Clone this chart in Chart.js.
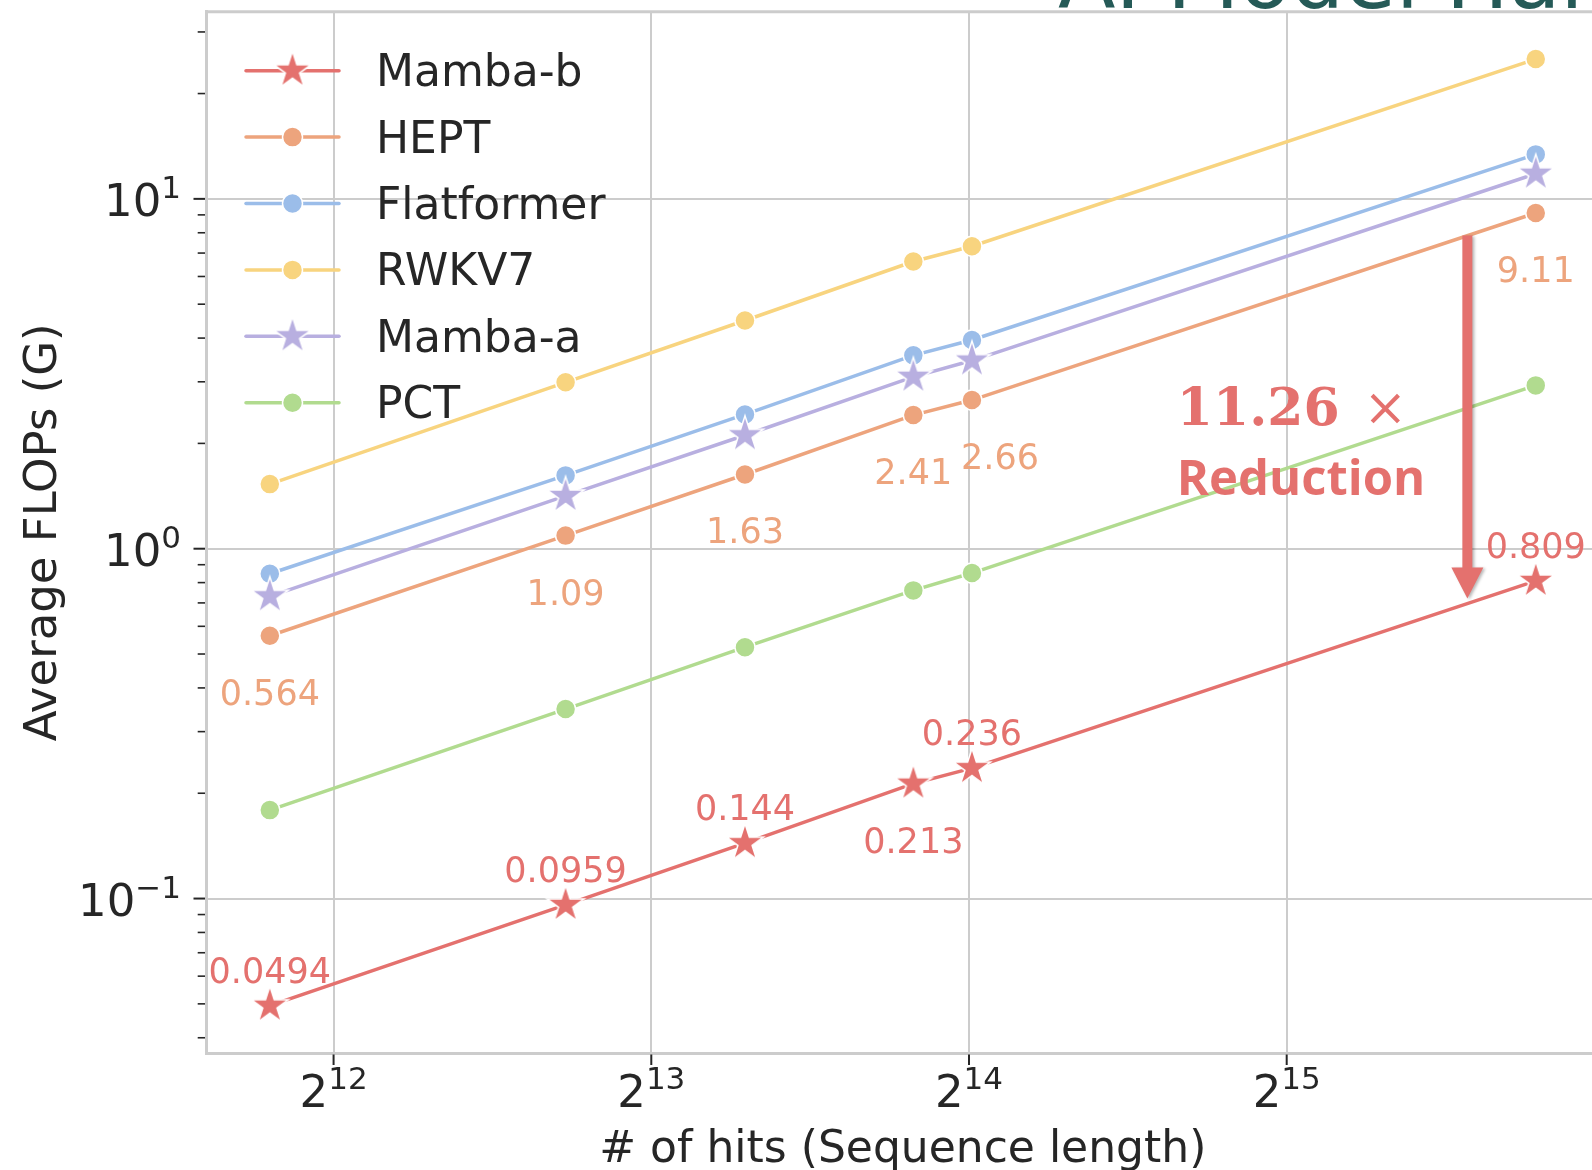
<!DOCTYPE html>
<html>
<head>
<meta charset="utf-8">
<title>Average FLOPs vs. sequence length</title>
<script src="https://cdn.jsdelivr.net/npm/chart.js@4.4.1/dist/chart.umd.min.js"></script>
<style>
  html, body { margin: 0; padding: 0; background: #ffffff; overflow: hidden; }
  #wrap { position: relative; width: 1700px; height: 1170px; }
</style>
</head>
<body>
<div id="wrap"><canvas id="chart"></canvas></div>
<script>
// ---- data ----
const HITS = [3564, 6795, 10050, 14510, 16490, 56420];          // # of hits per bucket
const MAMBA_B    = [0.0494, 0.0959, 0.144, 0.213, 0.236, 0.809];
const HEPT       = [0.564, 1.09, 1.63, 2.41, 2.66, 9.11];
const FLATFORMER = [0.848, 1.62, 2.42, 3.57, 3.95, 13.4];
const RWKV7      = [1.53, 2.99, 4.49, 6.62, 7.32, 25.1];
const MAMBA_A    = [0.731, 1.415, 2.11, 3.10, 3.45, 11.8];
const PCT        = [0.179, 0.348, 0.523, 0.760, 0.852, 2.93];
const SERIES_NAMES = ['Mamba-b', 'HEPT', 'Flatformer', 'RWKV7', 'Mamba-a', 'PCT'];

const X_TICK_EXPONENTS = [12, 13, 14, 15];        // 2^12 .. 2^15
const Y_TICK_EXPONENTS = [-1, 0, 1];              // 10^-1 .. 10^1
const REDUCTION_TEXT = '11.26';
const REDUCTION_WORD = 'Reduction';

// ---- styling ----
const COLORS = {
  'Mamba-b': '#e4716e',
  'HEPT': '#eda47d',
  'Flatformer': '#9bbde9',
  'RWKV7': '#f8d47f',
  'Mamba-a': '#b8afe0',
  'PCT': '#b1db8f'
};
const MARKERS = { 'Mamba-b': 'star', 'HEPT': 'circle', 'Flatformer': 'circle', 'RWKV7': 'circle', 'Mamba-a': 'star', 'PCT': 'circle' };
const FONT = '"DejaVu Sans", sans-serif';
const INK = '#262626';
const GRID = '#cccccc';
const DOT_R = 10;

// value-label placement for the two annotated series
const LABEL_LAYOUT = {
  'Mamba-b': { side: ['above', 'above', 'above', 'below', 'above', 'above'], dx: [0, 0, 0, 0, 0, 0] },
  'HEPT':    { side: ['below', 'below', 'below', 'below', 'below', 'below'], dx: [0, 0, 0, 0, 28, 0] }
};

// reduction arrow (data coordinates) and its caption
const ARROW = { x: 48600, from: 7.86, to: 0.72 };
const CAPTION = { x: 25950, y1: 2.25, y2: 1.42 };

const X_MIN = Math.pow(2, 11.6), X_MAX = Math.pow(2, 15.983);
const Y_MIN = Math.pow(10, -1.4415), Y_MAX = Math.pow(10, 1.535);

// filled five-point star marker with a thin white edge
function starImage(color, R) {
  const s = 2 * Math.ceil(R + 3);
  const c = document.createElement('canvas');
  c.width = s; c.height = s;
  const g = c.getContext('2d');
  const cx = s / 2, cy = s / 2, r = R * 0.381966;
  g.beginPath();
  for (let k = 0; k < 10; k++) {
    const rad = (k % 2) ? r : R;
    const a = -Math.PI / 2 + k * Math.PI / 5;
    const px = cx + rad * Math.cos(a), py = cy + rad * Math.sin(a);
    if (k) g.lineTo(px, py); else g.moveTo(px, py);
  }
  g.closePath();
  g.fillStyle = color;
  g.fill();
  g.lineWidth = 1.5;
  g.strokeStyle = '#ffffff';
  g.stroke();
  return c;
}

const STAR_R = 19.5;
const stars = {};
SERIES_NAMES.forEach(n => { if (MARKERS[n] === 'star') stars[n] = starImage(COLORS[n], STAR_R); });

const SERIES_VALUES = [MAMBA_B, HEPT, FLATFORMER, RWKV7, MAMBA_A, PCT];

const datasets = SERIES_NAMES.map((name, i) => ({
  label: name,
  data: HITS.map((x, j) => ({ x: x, y: SERIES_VALUES[i][j] })),
  borderColor: COLORS[name],
  backgroundColor: COLORS[name],
  borderWidth: 3.5,
  pointStyle: MARKERS[name] === 'star' ? stars[name] : 'circle',
  pointRadius: DOT_R,
  pointBorderColor: '#ffffff',
  pointBorderWidth: 1.5,
  pointBackgroundColor: COLORS[name],
  tension: 0,
  order: -i,
  clip: false
}));

// "10" + superscript style tick text
function mathLabel(ctx, base, sup, x, y, align) {
  ctx.font = '45px ' + FONT;
  const wb = ctx.measureText(base).width;
  ctx.font = '31px ' + FONT;
  const ws = ctx.measureText(sup).width;
  const x0 = align === 'right' ? x - wb - ws : x - (wb + ws) / 2;
  ctx.textAlign = 'left';
  ctx.textBaseline = 'alphabetic';
  ctx.fillStyle = INK;
  ctx.font = '45px ' + FONT;
  ctx.fillText(base, x0, y);
  ctx.font = '31px ' + FONT;
  ctx.fillText(sup, x0 + wb, y - 18.5);
}

const axesDecor = {
  id: 'axesDecor',
  afterDraw(chart) {
    const ctx = chart.ctx;
    const area = chart.chartArea;
    const xs = chart.scales.x, ys = chart.scales.y;
    ctx.save();

    // top spine
    ctx.strokeStyle = GRID;
    ctx.lineWidth = 3;
    ctx.beginPath();
    ctx.moveTo(area.left - 1.5, area.top);
    ctx.lineTo(area.right + 1.5, area.top);
    ctx.stroke();

    // tick marks
    ctx.strokeStyle = INK;
    X_TICK_EXPONENTS.forEach(e => {
      const px = xs.getPixelForValue(Math.pow(2, e));
      ctx.lineWidth = 2;
      ctx.beginPath();
      ctx.moveTo(px, area.bottom + 1.5);
      ctx.lineTo(px, area.bottom + 12);
      ctx.stroke();
    });
    for (let k = -2; k <= 1; k++) {
      for (let m = 1; m <= 9; m++) {
        const v = m * Math.pow(10, k);
        if (v < Y_MIN || v > Y_MAX) continue;
        const py = ys.getPixelForValue(v);
        const major = (m === 1);
        ctx.lineWidth = major ? 2 : 1.6;
        ctx.beginPath();
        ctx.moveTo(area.left - 1.5, py);
        ctx.lineTo(area.left - (major ? 13 : 8.8), py);
        ctx.stroke();
      }
    }

    // tick labels
    X_TICK_EXPONENTS.forEach(e => {
      const px = xs.getPixelForValue(Math.pow(2, e));
      mathLabel(ctx, '2', String(e), px, area.bottom + 54.3, 'center');
    });
    Y_TICK_EXPONENTS.forEach(e => {
      const py = ys.getPixelForValue(Math.pow(10, e));
      mathLabel(ctx, '10', e < 0 ? '\u2212' + String(-e) : String(e), area.left - 25.5, py + 17.5, 'right');
    });

    // axis titles
    ctx.fillStyle = INK;
    ctx.font = '44px ' + FONT;
    ctx.textAlign = 'center';
    ctx.textBaseline = 'alphabetic';
    ctx.fillText('# of hits (Sequence length)', (area.left + area.right) / 2, 1162);
    ctx.save();
    ctx.translate(44, (area.top + area.bottom) / 2);
    ctx.rotate(-Math.PI / 2);
    ctx.textBaseline = 'middle';
    ctx.font = '45px ' + FONT;
    ctx.fillText('Average FLOPs (G)', 0, 0);
    ctx.restore();

    // legend: line + marker + name
    const lx0 = 246, lx1 = 339, mx = 292.5, tx = 376, y0 = 70.7, dy = 66.4;
    SERIES_NAMES.forEach((name, i) => {
      const y = y0 + i * dy;
      ctx.strokeStyle = COLORS[name];
      ctx.lineWidth = 3.5;
      ctx.lineCap = 'round';
      ctx.beginPath();
      ctx.moveTo(lx0, y);
      ctx.lineTo(lx1, y);
      ctx.stroke();
      if (MARKERS[name] === 'star') {
        const img = stars[name];
        ctx.drawImage(img, mx - img.width / 2, y - img.height / 2);
      } else {
        ctx.beginPath();
        ctx.arc(mx, y, DOT_R, 0, Math.PI * 2);
        ctx.fillStyle = COLORS[name];
        ctx.fill();
        ctx.lineWidth = 1.5;
        ctx.strokeStyle = '#ffffff';
        ctx.stroke();
      }
      ctx.fillStyle = INK;
      ctx.font = '44px ' + FONT;
      ctx.textAlign = 'left';
      ctx.textBaseline = 'alphabetic';
      ctx.fillText(name, tx, y + 15.5);
    });

    // banner text running off the top edge
    ctx.fillStyle = '#255a57';
    ctx.font = '84px ' + FONT;
    ctx.textAlign = 'left';
    ctx.textBaseline = 'alphabetic';
    ctx.fillText('AI Model Hardware', 1058, 8);

    ctx.restore();
  },
  afterDatasetsDraw(chart) {
    const ctx = chart.ctx;
    const xs = chart.scales.x, ys = chart.scales.y;
    ctx.save();

    // value labels
    ctx.font = '35px ' + FONT;
    ctx.textAlign = 'center';
    ctx.textBaseline = 'alphabetic';
    Object.keys(LABEL_LAYOUT).forEach(name => {
      const idx = SERIES_NAMES.indexOf(name);
      const meta = chart.getDatasetMeta(idx);
      const lay = LABEL_LAYOUT[name];
      ctx.fillStyle = COLORS[name];
      meta.data.forEach((pt, j) => {
        const y = lay.side[j] === 'above' ? pt.y - 23 : pt.y + 69;
        ctx.fillText(String(SERIES_VALUES[idx][j]), pt.x + lay.dx[j], y);
      });
    });

    // reduction arrow
    const red = COLORS['Mamba-b'];
    const ax = xs.getPixelForValue(ARROW.x);
    const ay0 = ys.getPixelForValue(ARROW.from);
    const ay1 = ys.getPixelForValue(ARROW.to);
    const headL = 31, headW = 32, shaftW = 10;
    ctx.save();
    ctx.shadowColor = 'rgba(0,0,0,0.28)';
    ctx.shadowOffsetX = 2;
    ctx.shadowOffsetY = 1;
    ctx.shadowBlur = 3;
    ctx.fillStyle = red;
    ctx.beginPath();
    ctx.moveTo(ax - shaftW / 2, ay0);
    ctx.lineTo(ax + shaftW / 2, ay0);
    ctx.lineTo(ax + shaftW / 2, ay1 - headL);
    ctx.lineTo(ax + headW / 2, ay1 - headL);
    ctx.lineTo(ax, ay1);
    ctx.lineTo(ax - headW / 2, ay1 - headL);
    ctx.lineTo(ax - shaftW / 2, ay1 - headL);
    ctx.closePath();
    ctx.fill();
    ctx.restore();

    // caption
    const cx = xs.getPixelForValue(CAPTION.x);
    const cy1 = ys.getPixelForValue(CAPTION.y1);
    const cy2 = ys.getPixelForValue(CAPTION.y2);
    ctx.fillStyle = red;
    ctx.textAlign = 'left';
    ctx.font = 'bold 52px "DejaVu Serif", serif';
    ctx.fillText(REDUCTION_TEXT, cx - 3, cy1);
    const w = ctx.measureText(REDUCTION_TEXT).width;
    ctx.font = '52px "DejaVu Serif", serif';
    ctx.fillText('\u00d7', cx - 3 + w + 24, cy1);
    ctx.font = 'bold 49px "Open Sans", sans-serif';
    ctx.fillText(REDUCTION_WORD, cx - 3, cy2);

    ctx.restore();
  }
};

new Chart(document.getElementById('chart'), {
  type: 'line',
  data: { datasets: datasets },
  options: {
    responsive: true,
    maintainAspectRatio: false,
    animation: false,
    events: [],
    layout: { padding: { left: 206.5, right: 101, top: 11.7, bottom: 117 } },
    plugins: { legend: { display: false }, tooltip: { enabled: false } },
    scales: {
      x: {
        type: 'logarithmic',
        min: X_MIN,
        max: X_MAX,
        afterBuildTicks: s => { s.ticks = X_TICK_EXPONENTS.map(e => ({ value: Math.pow(2, e) })); },
        ticks: { display: false },
        grid: { color: GRID, lineWidth: 2, drawTicks: false },
        border: { display: true, color: GRID, width: 3 }
      },
      y: {
        type: 'logarithmic',
        min: Y_MIN,
        max: Y_MAX,
        afterBuildTicks: s => { s.ticks = Y_TICK_EXPONENTS.map(e => ({ value: Math.pow(10, e) })); },
        ticks: { display: false },
        grid: { color: GRID, lineWidth: 2, drawTicks: false },
        border: { display: true, color: GRID, width: 3 }
      }
    }
  },
  plugins: [axesDecor]
});
</script>
</body>
</html>
